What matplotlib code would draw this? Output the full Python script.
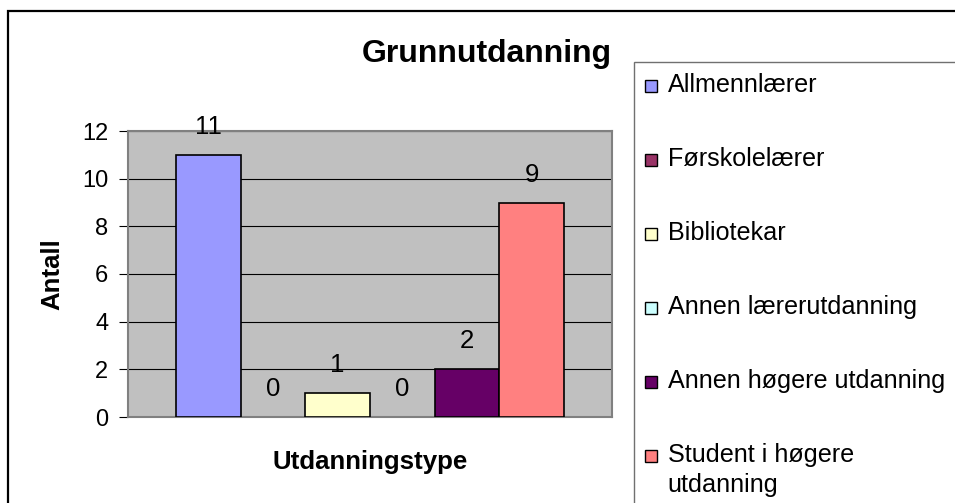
import numpy as np
import matplotlib
matplotlib.use("Agg")
import matplotlib.pyplot as plt
from matplotlib.patches import Rectangle

plt.rcParams['font.family'] = ['Liberation Sans', 'DejaVu Sans']

# data
categories = ["Allmennlærer", "Førskolelærer", "Bibliotekar",
              "Annen lærerutdanning", "Annen høgere utdanning",
              "Student i høgere\nutdanning"]
counts = [11, 0, 1, 0, 2, 9]
colors = ["#9999FF", "#993366", "#FFFFCC", "#CCFFFF", "#660066", "#FF8080"]
yticks = [0, 2, 4, 6, 8, 10, 12]

title = "Grunnutdanning"
xlabel = "Utdanningstype"
ylabel = "Antall"

W, H = 955, 503


def fx(x):
    # pixel x -> figure fraction
    return x / W


def fy(y):
    # pixel y (from top) -> figure fraction
    return 1 - y / H


fig = plt.figure(figsize=(W / 100, H / 100), dpi=100)
fig.patch.set_facecolor("white")

# outer chart border (right and bottom run off the picture)
fig.patches.append(Rectangle((fx(7.5), -0.1), 1.2, fy(11) + 0.1,
                             transform=fig.transFigure, fill=False,
                             edgecolor="black", linewidth=1.6))

# plot area
ax = fig.add_axes([fx(128.3), fy(417), (611.7 - 128.3) / W, (417 - 131) / H])
ax.set_facecolor("#C0C0C0")
ax.set_axisbelow(True)

x = np.arange(len(counts))
lw = [1.2 if v > 0 else 0 for v in counts]
bars = ax.bar(x, counts, width=1.0, color=colors, edgecolor="black",
              linewidth=lw, zorder=3)

for xi, v in zip(x, counts):
    ax.annotate(str(v), (xi, v), xytext=(0, 15), textcoords="offset points",
                ha="center", va="baseline", fontsize=18.5)

ax.set_xlim(-1.24, 6.24)
ax.set_ylim(0, 12)
ax.set_yticks(yticks)
ax.set_xticks([])
ax.yaxis.grid(True, color="black", linewidth=0.8)
ax.tick_params(axis="y", direction="out", length=6.5, width=0.8,
               color="black", pad=8, labelsize=17)
for s in ax.spines.values():
    s.set_color("#808080")
    s.set_linewidth(1.5)

ax.set_xlabel(xlabel, fontsize=18.6, fontweight="bold", va="baseline")
ax.xaxis.set_label_coords(0.5, (417 - 469) / (417 - 131))
ax.set_ylabel(ylabel, fontsize=18.6, fontweight="bold", va="center")
ax.yaxis.set_label_coords((52 - 128.3) / (611.7 - 128.3), 0.5)

fig.text(fx(487), fy(61.7), title, ha="center", va="baseline",
         fontsize=23, fontweight="bold")

# legend box (runs off the right and bottom edge)
fig.patches.append(Rectangle((fx(633.5), -0.1), 1.0, fy(62.5) + 0.1,
                             transform=fig.transFigure, fill=False,
                             edgecolor="#707070", linewidth=1.0))
line_step = 30
for i, (lab, c) in enumerate(zip(categories, colors)):
    base = 91.7 + i * 74
    fig.patches.append(Rectangle((fx(645), fy(base + 0.5)), 12 / W, 12 / H,
                                 transform=fig.transFigure, facecolor=c,
                                 edgecolor="black", linewidth=1.0))
    # va="baseline" anchors the last line, so shift down for wrapped labels
    fig.text(fx(667.5), fy(base + lab.count("\n") * line_step), lab,
             ha="left", va="baseline", fontsize=18.1, linespacing=1.3)

fig.savefig("out.png", dpi=100)
